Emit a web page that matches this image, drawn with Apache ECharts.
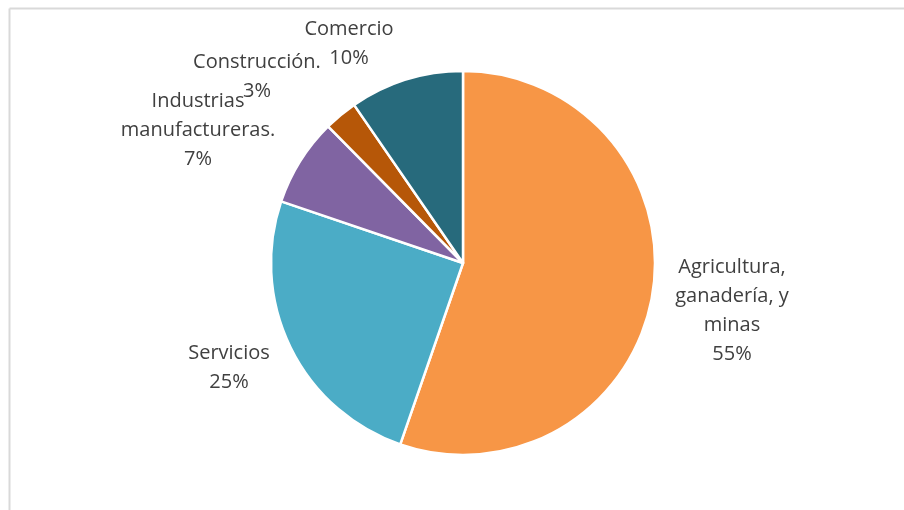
<!DOCTYPE html>
<html>
<head>
<meta charset="utf-8">
<script src="https://cdn.jsdelivr.net/npm/echarts@6/dist/echarts.min.js"></script>
<style>
html,body{margin:0;padding:0;background:#fff;}
#chart{width:904px;height:510px;}
</style>
</head>
<body>
<div id="chart"></div>
<script>
const categories = ['Agricultura,\nganadería, y\nminas', 'Servicios', 'Industrias\nmanufactureras.', 'Construcción.', 'Comercio'];
const values = [55.3, 24.9, 7.4, 2.8, 9.6];
const colors = ['#F79646', '#4BACC6', '#8064A2', '#B65708', '#276A7C'];
const labelPos = [[732, 311], [229, 368], [198, 130], [257, 77], [349, 44]];

const chart = echarts.init(document.getElementById('chart'));
chart.setOption({
  backgroundColor: '#ffffff',
  animation: false,
  graphic: [
    { type: 'line', shape: { x1: 9.5, y1: 8.5, x2: 9.5, y2: 510 }, style: { stroke: '#d9d9d9', lineWidth: 2 } },
    { type: 'line', shape: { x1: 9.5, y1: 8.5, x2: 904, y2: 8.5 }, style: { stroke: '#d9d9d9', lineWidth: 2 } }
  ],
  series: [{
    type: 'pie',
    center: [463, 263],
    radius: 192,
    startAngle: 90,
    clockwise: true,
    avoidLabelOverlap: false,
    itemStyle: { borderColor: '#ffffff', borderWidth: 2.5 },
    label: {
      show: true,
      position: 'outside',
      fontFamily: '"Open Sans", "Noto Sans", sans-serif',
      fontSize: 20,
      lineHeight: 29,
      color: '#404040',
      align: 'center',
      formatter: p => p.name + '\n' + Math.round(p.percent) + '%'
    },
    labelLine: { show: false },
    labelLayout: p => ({ x: labelPos[p.dataIndex][0], y: labelPos[p.dataIndex][1], align: 'center', verticalAlign: 'middle' }),
    data: categories.map((c, i) => ({ name: c, value: values[i], itemStyle: { color: colors[i] } }))
  }]
});
</script>
</body>
</html>
